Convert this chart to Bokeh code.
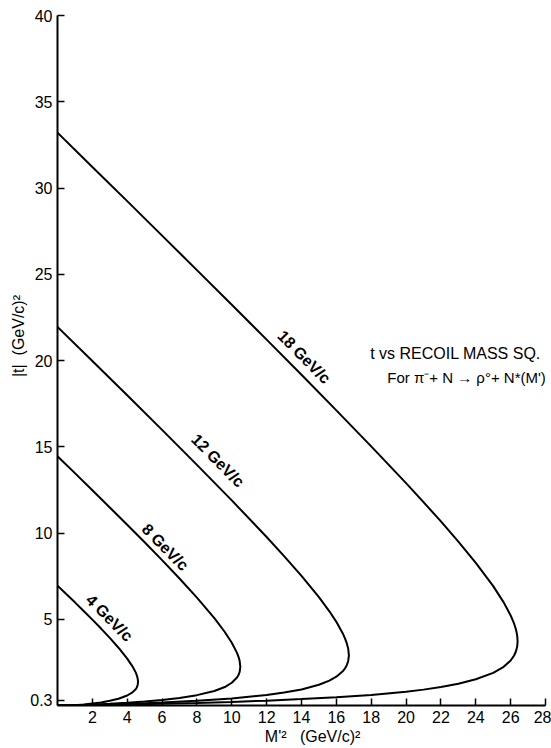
from bokeh.plotting import figure
from bokeh.models import Range1d, FixedTicker, Label
from bokeh.embed import file_html
from bokeh.resources import INLINE

# Kinematic boundaries |t| vs M'^2 for pi- N -> rho0 N*(M')
m2_4 = [0, 0.5, 1, 1.5, 2, 2.5, 3, 3.5, 4, 4.3, 4.5, 4.55, 4.6, 4.62]
t_hi_4 = [6.95, 6.46, 5.98, 5.48, 4.98, 4.46, 3.92, 3.35, 2.72, 2.27, 1.89, 1.75, 1.57, 1.37]
t_lo_4 = [0.00, 0.00, 0.02, 0.06, 0.12, 0.18, 0.27, 0.39, 0.58, 0.76, 0.96, 1.05, 1.19, 1.37]

m2_8 = [0, 1, 2, 3, 4, 5, 6, 7, 8, 9, 9.6, 10.0, 10.3, 10.4, 10.45, 10.49]
t_hi_8 = [14.45, 13.47, 12.48, 11.48, 10.48, 9.46, 8.43, 7.36, 6.25, 5.06, 4.26, 3.64, 3.05, 2.78, 2.59, 2.25]
t_lo_8 = [0.00, 0.01, 0.05, 0.10, 0.16, 0.23, 0.32, 0.43, 0.60, 0.84, 1.07, 1.32, 1.62, 1.80, 1.94, 2.25]

m2_12 = [0, 2, 4, 6, 8, 10, 12, 13, 14, 15, 15.6, 16.0, 16.4, 16.5, 16.6, 16.68, 16.72]
t_hi_12 = [21.95, 19.97, 17.99, 15.98, 13.95, 11.89, 9.77, 8.66, 7.51, 6.28, 5.46, 4.85, 4.11, 3.88, 3.60, 3.29, 2.91]
t_lo_12 = [0.00, 0.03, 0.09, 0.17, 0.27, 0.41, 0.61, 0.75, 0.93, 1.20, 1.44, 1.67, 2.02, 2.16, 2.34, 2.58, 2.91]

m2_18 = [0, 2, 4, 6, 8, 10, 12, 14, 16, 18, 20, 21, 22, 23, 24, 25, 25.6, 26.0, 26.2, 26.3, 26.35, 26.38, 26.40]
t_hi_18 = [33.21, 31.22, 29.24, 27.24, 25.24, 23.23, 21.21, 19.17, 17.11, 15.02, 12.89, 11.79, 10.67, 9.50, 8.27, 6.92, 5.98, 5.22, 4.74, 4.42, 4.20, 4.01, 3.72]
t_lo_18 = [0.00, 0.02, 0.06, 0.10, 0.15, 0.21, 0.28, 0.37, 0.48, 0.61, 0.80, 0.92, 1.07, 1.26, 1.52, 1.89, 2.24, 2.61, 2.90, 3.13, 3.30, 3.46, 3.72]

curve_names = ["4 GeV/c", "8 GeV/c", "12 GeV/c", "18 GeV/c"]
label_x = [2.98, 6.18, 9.20, 14.15]
label_y = [5.08, 9.18, 14.20, 20.20]

x_ticks = [2, 4, 6, 8, 10, 12, 14, 16, 18, 20, 22, 24, 26, 28]
x_tick_labels = ["2", "4", "6", "8", "10", "12", "14", "16", "18", "20", "22", "24", "26", "28"]
y_ticks = [0.3, 5, 10, 15, 20, 25, 30, 35, 40]
y_tick_labels = ["0.3", "5", "10", "15", "20", "25", "30", "35", "40"]

FONT = "Liberation Sans"
NB = "\u00a0"

p = figure(width=551, height=748, output_backend="svg", toolbar_location=None,
           x_range=Range1d(0, 28), y_range=Range1d(0, 40),
           min_border_left=57, min_border_right=6, min_border_top=15,
           min_border_bottom=43)
p.outline_line_color = None
p.grid.visible = False
p.background_fill_color = "white"
p.border_fill_color = "white"

for m, hi, lo in [(m2_4, t_hi_4, t_lo_4), (m2_8, t_hi_8, t_lo_8),
                  (m2_12, t_hi_12, t_lo_12), (m2_18, t_hi_18, t_lo_18)]:
    xs = list(m) + list(reversed(m[:-1]))
    ys = list(hi) + list(reversed(lo[:-1]))
    p.line(xs, ys, line_color="black", line_width=2)

for ax, ticks, labels, standoff in [(p.xaxis, x_ticks, x_tick_labels, 5),
                                    (p.yaxis, y_ticks, y_tick_labels, 5)]:
    ax.ticker = FixedTicker(ticks=ticks)
    ax.major_label_overrides = {t: l for t, l in zip(ticks, labels)}
    ax.major_tick_in = 7
    ax.major_tick_out = 0
    ax.minor_tick_line_color = None
    ax.axis_line_width = 2
    ax.major_tick_line_width = 1.5
    ax.axis_line_color = "black"
    ax.major_tick_line_color = "black"
    ax.major_label_text_font = FONT
    ax.major_label_text_font_size = "16px"
    ax.major_label_text_color = "black"
    ax.major_label_standoff = standoff
    ax.axis_label_text_font = FONT
    ax.axis_label_text_font_size = "16px"
    ax.axis_label_text_font_style = "normal"
    ax.axis_label_text_color = "black"

p.xaxis.axis_label = NB * 5 + "M'²" + NB * 3 + "(GeV/c)²"
p.xaxis.axis_label_standoff = 2
p.yaxis.axis_label = NB * 11 + "|t|" + NB * 2 + "(GeV/c)²"
p.yaxis.axis_label_standoff = 0

for name, lx, ly in zip(curve_names, label_x, label_y):
    p.add_layout(Label(x=lx, y=ly, text=name, angle=-0.79,
                       text_align="center", text_baseline="middle",
                       text_font=FONT, text_font_size="16px",
                       text_font_style="bold", text_color="black"))

p.add_layout(Label(x=17.94, y=20.43, text="t  vs  RECOIL MASS SQ.",
                   text_align="left", text_baseline="middle",
                   text_font=FONT, text_font_size="16px", text_color="black"))
p.add_layout(Label(x=18.92, y=19.04, text="For  π⁻+ N → ρ°+ N*(M')",
                   text_align="left", text_baseline="middle",
                   text_font=FONT, text_font_size="15px", text_color="black"))

open("out.html", "w").write(file_html(p, INLINE))
